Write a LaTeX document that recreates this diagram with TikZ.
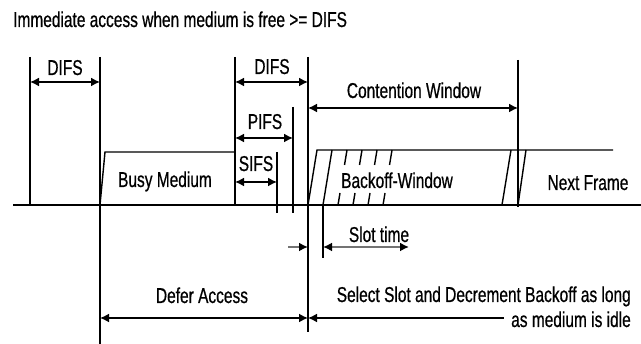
\documentclass[tikz,border=0pt]{standalone}
\usepackage{fontspec}
\setmainfont{Liberation Sans}[FakeStretch=0.72,FakeBold=0.6]
\usetikzlibrary{arrows.meta}
\tikzset{
  ln/.style={line width=1.4pt, black},
  dimline/.style={line width=1.6pt, {Latex[length=9pt,width=9pt]}-{Latex[length=9pt,width=9pt]}},
  lbl/.style={inner sep=0pt, anchor=base, font=\fontsize{21.5}{22}\selectfont},
  slotline/.style={line width=1.8pt, draw=black!55},
}
\begin{document}
\begin{tikzpicture}[x=1pt,y=-1pt]
\useasboundingbox[fill=white] (0,0) rectangle (641,344);

% title
\node[lbl, anchor=base west] (title) at (13,27) {Immediate access when medium is free >= DIFS};

% key coordinates
\coordinate (d1a) at (30,82);  \coordinate (d1b) at (100,82);
\coordinate (d2a) at (235,82); \coordinate (d2b) at (308,82);
\coordinate (pa) at (235,138); \coordinate (pb) at (293,138);
\coordinate (sa) at (235,182); \coordinate (sb) at (277,182);
\coordinate (ca) at (308,108); \coordinate (cb) at (518,108);
\coordinate (dfa) at (100,318); \coordinate (dfb) at (308,318);
\coordinate (sel) at (504,318);
\coordinate (sl0) at (288,247); \coordinate (sl1) at (308,247);
\coordinate (sl2) at (323,247); \coordinate (sl3) at (409,247);

% time axis
\draw[line width=1.6pt] (13,205) -- (641,205);

% vertical markers
\draw[ln] (30,57) -- (30,205);
\draw[ln] (100,57) -- (100,344);
\draw[ln] (235,57) -- (235,205);
\draw[ln] (308,57) -- (308,332);
\draw[ln] (293,107) -- (293,213);
\draw[ln] (277,152) -- (277,213);
\draw[ln] (518,60) -- (518,207);
\draw[ln] (323,205) -- (323,258);

% busy medium frame
\draw[ln] (100,205) -- (105,152) -- (235,152);

% backoff window / next frame
\draw[ln] (308,205) -- (317,150) -- (613,150);
\draw[ln] (323,205) -- (332,150);
\foreach \i in {0,...,3} {
  \draw[ln] (338+15*\i,205) -- ++(2,-12);
  \draw[ln] (347+15*\i,150) -- ++(-2.5,15);
}
\draw[ln] (502,205) -- (511,150);
\draw[ln] (518,205) -- (526,150);

% dimension arrows
\draw[dimline] (d1a) -- (d1b);
\draw[dimline] (d2a) -- (d2b);
\draw[dimline] (pa) -- (pb);
\draw[dimline] (sa) -- (sb);
\draw[dimline] (ca) -- (cb);
\draw[dimline] (dfa) -- (dfb);
\draw[line width=1.6pt, {Latex[length=9pt,width=9pt]}-] (dfb) -- (sel);

% slot time
\draw[slotline, -{Latex[length=9pt,width=9pt,black]}] (sl0) -- (sl1);
\draw[slotline, {Latex[length=9pt,width=9pt,black]}-{Latex[length=9pt,width=9pt,black]}] (sl2) -- (sl3);

% labels
\node[lbl] (difs1) at (65,75) {DIFS};
\node[lbl] (difs2) at (272,74) {DIFS};
\node[lbl] (pifs) at (265,129) {PIFS};
\node[lbl] (sifs) at (256,171) {SIFS};
\node[lbl] (cw) at (414,98) {Contention Window};
\node[lbl] (busy) at (165,187) {Busy Medium};
\node[lbl] (bw) at (397,188) {Backoff-Window};
\node[lbl] (nf) at (588,190) {Next Frame};
\node[lbl] (slot) at (379,242) {Slot time};
\node[lbl] (defer) at (202,303) {Defer Access};
\node[lbl, anchor=base east] (sel1) at (631,302) {Select Slot and Decrement Backoff as long};
\node[lbl, anchor=base east] (sel2) at (631,327) {as medium is idle};
\end{tikzpicture}
\end{document}
